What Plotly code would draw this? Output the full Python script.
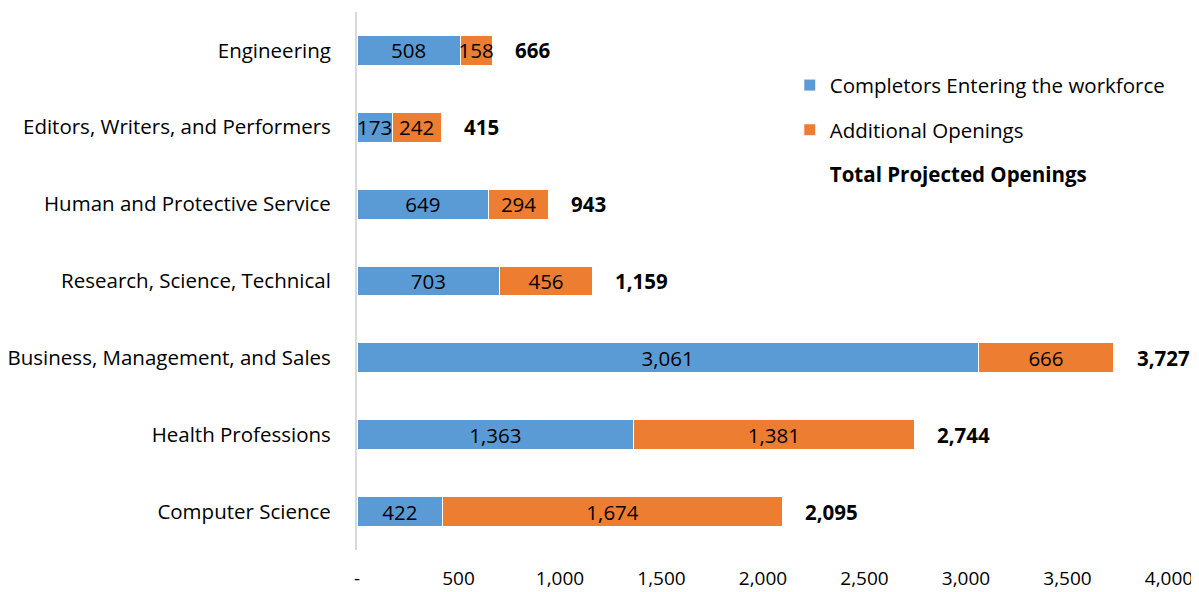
import plotly.graph_objects as go

# categories listed top to bottom, as in the chart
categories = ["Engineering", "Editors, Writers, and Performers", "Human and Protective Service",
              "Research, Science, Technical", "Business, Management, and Sales",
              "Health Professions", "Computer Science"]
completors = [508, 173, 649, 703, 3061, 1363, 422]
additional = [158, 242, 294, 456, 666, 1381, 1674]
totals = [666, 415, 943, 1159, 3727, 2744, 2095]

tick_vals = [0, 500, 1000, 1500, 2000, 2500, 3000, 3500, 4000]
tick_text = ["-", "500", "1,000", "1,500", "2,000", "2,500", "3,000", "3,500", "4,000"]

FONT = "Open Sans"
FS = 20.5
blue = "#5B9BD5"
orange = "#ED7D31"

fig = go.Figure()
fig.add_trace(go.Bar(y=categories, x=completors, orientation="h",
                     name="Completors Entering the workforce", legendgroup="a",
                     marker=dict(color=blue, line=dict(color="white", width=1)),
                     text=[f"{v:,}" for v in completors], textposition="inside",
                     insidetextanchor="middle", textfont=dict(color="black", size=FS, family=FONT)))
fig.add_trace(go.Bar(y=categories, x=additional, orientation="h",
                     name="Additional Openings", legendgroup="b",
                     marker=dict(color=orange, line=dict(color="white", width=1)),
                     text=[f"{v:,}" for v in additional], textposition="inside",
                     insidetextanchor="middle", textfont=dict(color="black", size=FS, family=FONT)))
# invisible trace just for the legend entry of the totals
fig.add_trace(go.Scatter(y=categories, x=totals, mode="markers",
                         name="<b>Total Projected Openings</b>", legendgroup="c",
                         marker=dict(color="rgba(0,0,0,0)", size=1), hoverinfo="skip"))

## bold total labels next to each bar
for c, t in zip(categories, totals):
    fig.add_annotation(x=t, y=c, text=f"<b>{t:,}</b>", showarrow=False,
                       xanchor="left", xshift=21, font=dict(size=FS, color="black", family=FONT))

# page body has an 8px margin, so the figure is a bit smaller than the window
fig.update_layout(
    barmode="stack", bargap=0.61,
    width=1191, height=584,
    margin=dict(l=349, r=30, t=4, b=42),
    plot_bgcolor="white", paper_bgcolor="white",
    font=dict(family=FONT, size=FS, color="black"),
    uniformtext=dict(minsize=FS, mode="show"),
    legend=dict(x=0.533, y=0.901, xanchor="left", yanchor="top",
                font=dict(size=FS, family=FONT), tracegroupgap=15,
                bgcolor="rgba(0,0,0,0)"),
    xaxis=dict(range=[0, 4000], tickvals=tick_vals, ticktext=tick_text, automargin=False,
               tickfont=dict(size=19), showgrid=False, zeroline=False, showline=False,
               ticklabelstandoff=15),
    yaxis=dict(autorange="reversed", showline=True, linecolor="#D9D9D9", linewidth=2,
               showgrid=False, ticklabelstandoff=20, automargin=False),
)

fig.write_html("out.html")
